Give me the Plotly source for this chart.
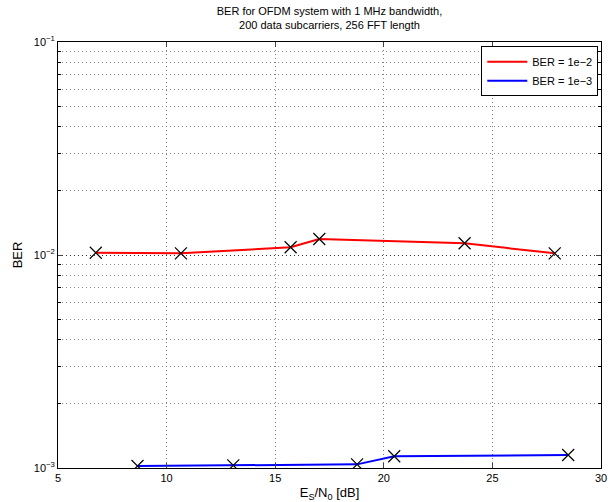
import plotly.graph_objects as go

# Data
red_x = [6.74, 10.66, 15.71, 17.03, 23.72, 27.87]
red_y = [0.01025, 0.01018, 0.01087, 0.01189, 0.01135, 0.01018]
blue_x = [8.66, 13.07, 18.77, 20.48, 28.49]
blue_y = [0.001022, 0.001029, 0.00104, 0.001135, 0.001151]

x_ticks = [5, 10, 15, 20, 25, 30]
y_major = [0.001, 0.01, 0.1]
y_labels = ["10<sup>\u22123</sup>", "10<sup>\u22122</sup>", "10<sup>\u22121</sup>"]
y_minor = [m * 10.0 ** e for e in (-3, -2) for m in range(2, 10)]

FONT = "Liberation Sans, Arial, Helvetica, sans-serif"

fig = go.Figure()
fig.add_trace(go.Scatter(x=red_x, y=red_y, mode="lines", name="BER = 1e\u22122",
                         line=dict(color="#ff0000", width=2)))
fig.add_trace(go.Scatter(x=blue_x, y=blue_y, mode="lines", name="BER = 1e\u22123",
                         line=dict(color="#0000ff", width=2)))
for xs, ys in ((red_x, red_y), (blue_x, blue_y)):
    fig.add_trace(go.Scatter(x=xs, y=ys, mode="markers", showlegend=False,
                             marker=dict(symbol="x-thin", size=12,
                                         line=dict(color="black", width=1.2))))

fig.update_layout(
    width=613, height=502,
    margin=dict(l=58, r=12, t=42, b=34),
    paper_bgcolor="white", plot_bgcolor="white",
    font=dict(family=FONT, size=11, color="black"),
    title=dict(text="BER for OFDM system with 1 MHz bandwidth,<br>200 data subcarriers, 256 FFT length",
               x=0.5375, xanchor="center", y=0.97, yanchor="top",
               font=dict(size=11)),
    legend=dict(x=0.995, y=0.99, xanchor="right", yanchor="top",
                bordercolor="black", borderwidth=1, bgcolor="white",
                font=dict(size=11), tracegroupgap=0, itemwidth=40),
    showlegend=True,
)
grid = dict(showgrid=True, gridcolor="#7a7a7a", griddash="1px,3px", gridwidth=1)
fig.update_xaxes(range=[5, 30], tickvals=x_ticks, ticks="inside", ticklen=5,
                 showline=True, linecolor="black", linewidth=1, mirror="ticks",
                 zeroline=False, automargin=False, **grid,
                 title=dict(text="E<sub>S</sub>/N<sub>0</sub> [dB]", standoff=4))
fig.update_yaxes(type="log", range=[-3, -1], tickvals=y_major, ticktext=y_labels,
                 ticks="inside", ticklen=5, automargin=False,
                 showline=True, linecolor="black", linewidth=1, mirror="ticks",
                 zeroline=False, showgrid=True, gridcolor="#333333",
                 griddash="1px,3px", gridwidth=1,
                 minor=dict(tickmode="array", tickvals=y_minor, ticks="inside",
                            ticklen=3, tickcolor="black", showgrid=True,
                            gridcolor="#8a8a8a", griddash="1px,3px", gridwidth=1),
                 title=dict(text="BER", standoff=8))

fig.write_html("out.html", config={"displayModeBar": False},
               post_script="document.body.style.margin='0';document.body.style.overflow='hidden';")
